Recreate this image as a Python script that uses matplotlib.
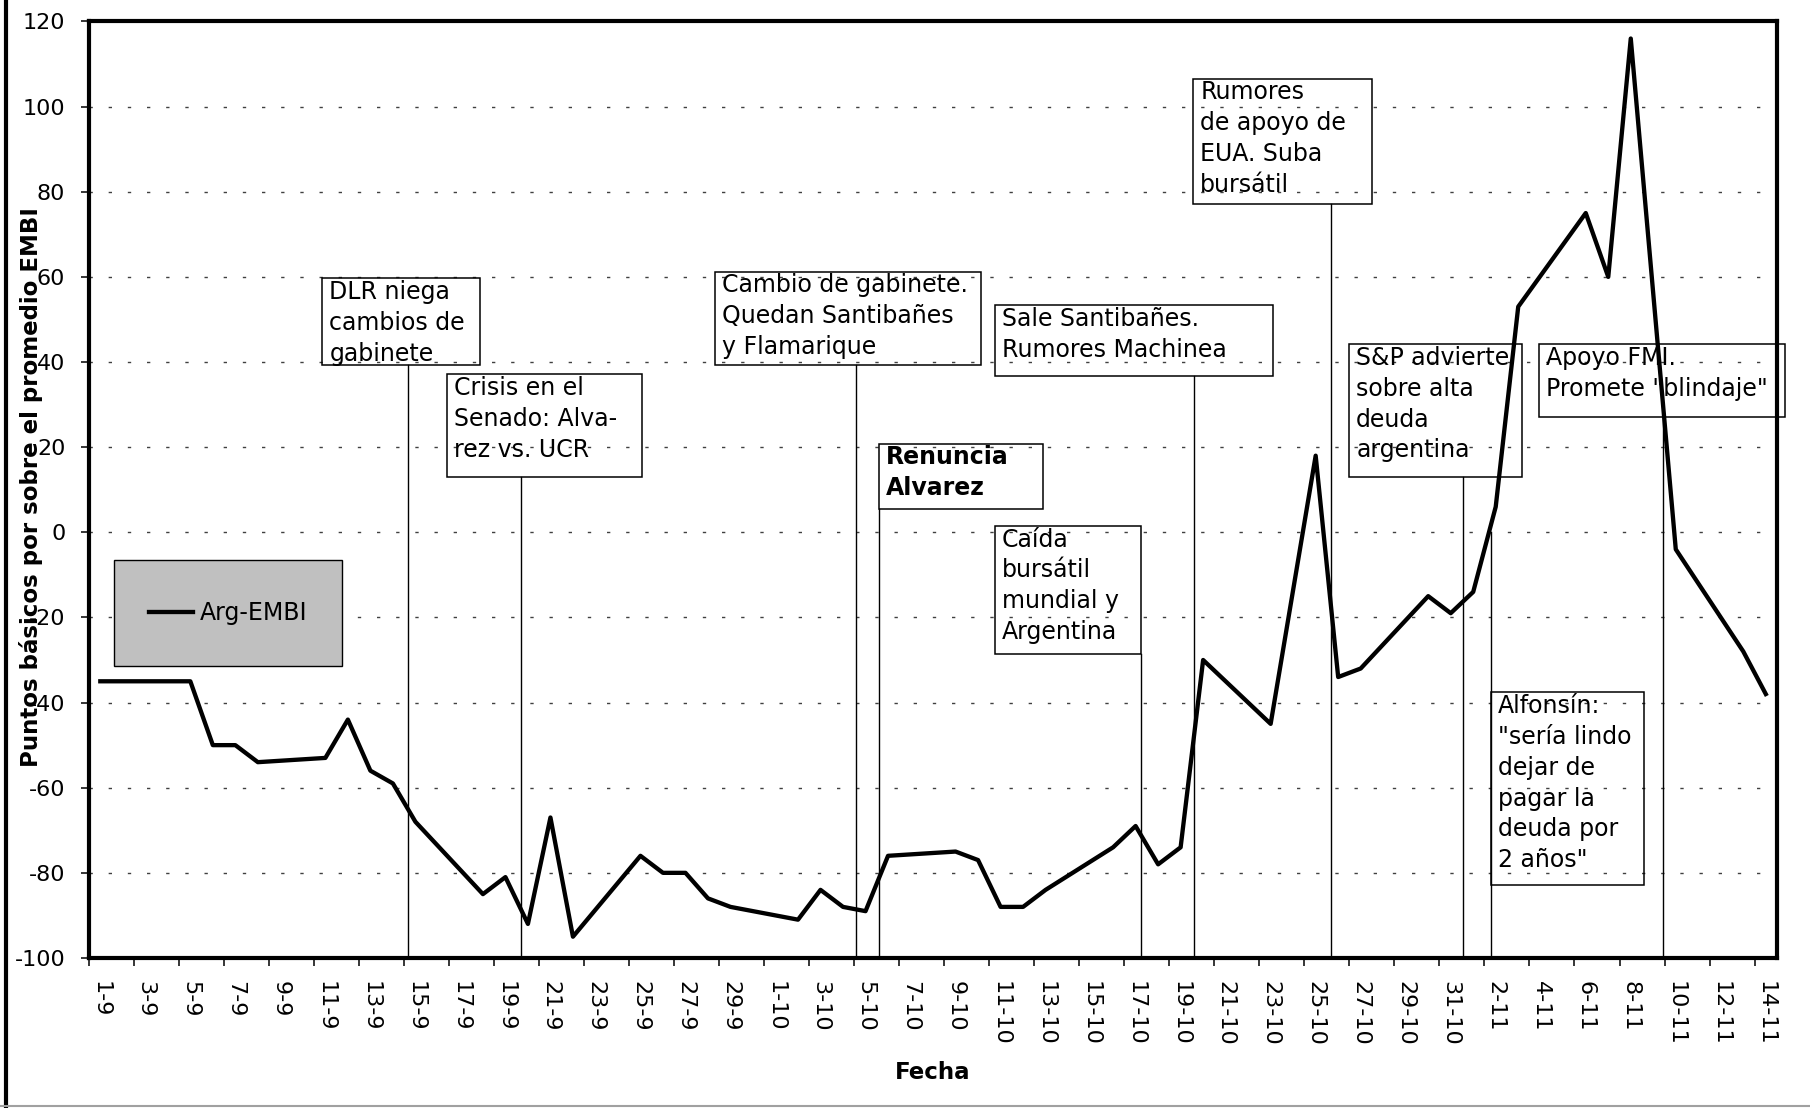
import numpy as np
import pandas as pd
import matplotlib
matplotlib.use("Agg")
import matplotlib.pyplot as plt
from matplotlib.patches import Rectangle
from matplotlib.lines import Line2D

plt.rcParams['font.family'] = ['DejaVu Sans']
plt.rcParams['axes.unicode_minus'] = False

# diferencial Argentina vs promedio EMBI (pb), dias habiles sep-nov 2000
fechas = ["2000-09-01", "2000-09-05", "2000-09-06", "2000-09-07", "2000-09-08",
          "2000-09-11", "2000-09-12", "2000-09-13", "2000-09-14", "2000-09-15",
          "2000-09-18", "2000-09-19", "2000-09-20", "2000-09-21", "2000-09-22",
          "2000-09-25", "2000-09-26", "2000-09-27", "2000-09-28", "2000-09-29",
          "2000-10-02", "2000-10-03", "2000-10-04", "2000-10-05", "2000-10-06",
          "2000-10-09", "2000-10-10", "2000-10-11", "2000-10-12", "2000-10-13",
          "2000-10-16", "2000-10-17", "2000-10-18", "2000-10-19", "2000-10-20",
          "2000-10-23", "2000-10-25", "2000-10-26", "2000-10-27",
          "2000-10-30", "2000-10-31", "2000-11-01", "2000-11-02", "2000-11-03",
          "2000-11-06", "2000-11-07", "2000-11-08", "2000-11-10",
          "2000-11-13", "2000-11-14"]
arg_embi = [-35, -35, -50, -50, -54,
            -53, -44, -56, -59, -68,
            -85, -81, -92, -67, -95,
            -76, -80, -80, -86, -88,
            -91, -84, -88, -89, -76,
            -75, -77, -88, -88, -84,
            -74, -69, -78, -74, -30,
            -45, 18, -34, -32,
            -15, -19, -14, 6, 53,
            75, 60, 116, -4,
            -28, -38]

y_ticks = list(range(-100, 121, 20))

# recuadros de eventos: texto, (x0, x1, y0, y1) en dias/pb, linea guia (x, y desde)
notas = [
    ("DLR niega\ncambios de\ngabinete", (9.87, 16.86, 39.4, 59.7), 13.68, 39.4, "normal"),
    ("Crisis en el\nSenado: Alva-\nrez vs. UCR", (15.40, 24.08, 13.0, 37.1), 18.71, 13.0, "normal"),
    ("Cambio de gabinete.\nQuedan Santibañes\ny Flamarique", (27.33, 39.11, 39.4, 61.2), 33.57, 39.4, "normal"),
    ("Renuncia\nAlvarez", (34.59, 41.88, 5.4, 20.8), 34.62, 5.4, "bold"),
    ("Sale Santibañes.\nRumores Machinea", (39.74, 52.10, 36.7, 53.4), 48.58, 36.7, "normal"),
    ("Caída\nbursátil\nmundial y\nArgentina", (39.74, 46.24, -28.5, 1.5), 46.24, -28.5, "normal"),
    ("Rumores\nde apoyo de\nEUA. Suba\nbursátil", (48.56, 56.49, 77.1, 106.6), 54.69, 77.1, "normal"),
    ("S&P advierte\nsobre alta\ndeuda\nargentina", (55.49, 63.17, 13.0, 44.2), 60.55, 13.0, "normal"),
    ("Apoyo FMI.\nPromete \"blindaje\"", (63.94, 74.86, 27.2, 44.2), 69.42, 27.2, "normal"),
    ("Alfonsín:\n\"sería lindo\ndejar de\npagar la\ndeuda por\n2 años\"", (61.78, 68.61, -82.9, -37.6), 61.78, 0.0, "normal"),
]

fechas = pd.to_datetime(fechas)
inicio = fechas[0]
x = (fechas - inicio).days.values

fig = plt.figure(figsize=(18.1, 11.08), dpi=100)
ax = fig.add_axes([0.0492, 0.1354, 0.9326, 0.8452])

linea, = ax.plot(x, arg_embi, color='black', lw=3.1, zorder=6, label='Arg-EMBI')

ax.set_xlim(-0.5, 74.5)
ax.set_ylim(-100, 120)

# etiquetas cada dos dias, marcas entre categorias
etiquetas = pd.date_range(fechas[0], fechas[-1], freq='2D')
ax.set_xticks((etiquetas - inicio).days.values)
ax.set_xticklabels([f"{d.day}-{d.month}" for d in etiquetas], rotation=270)
ax.set_xticks(np.arange(-0.5, 74.5, 2), minor=True)
ax.tick_params(axis='x', which='major', length=0, pad=16.5, labelsize=16)
ax.tick_params(axis='x', which='minor', length=5.8, width=1.1, direction='out')

ax.set_yticks(y_ticks)
ax.set_yticklabels([str(v) for v in y_ticks])
ax.tick_params(axis='y', length=5.8, width=1.1, pad=11.3, labelsize=16)

ax.yaxis.grid(True, linestyle=(0, (2.4, 11.4)), color='#404040', lw=1.0)
ax.set_axisbelow(True)

for s in ax.spines.values():
    s.set_linewidth(3)
    s.set_color('black')

for texto, (x0, x1, y0, y1), xl, yl, peso in notas:
    ax.add_patch(Rectangle((x0, y0), x1 - x0, y1 - y0, fill=False, ec='black',
                           lw=1.1, clip_on=False, zorder=4))
    ax.plot([xl, xl], [yl, -100], color='black', lw=1.0, zorder=3)
    ax.annotate(texto, xy=(x0, y1), xytext=(5, -1.2), textcoords='offset points',
                ha='left', va='top', fontsize=17, fontweight=peso,
                linespacing=1.36, zorder=5, annotation_clip=False)

# leyenda sobre fondo gris
ax.add_patch(Rectangle((0.61, -31.5), 10.15, 25.1, facecolor='#c0c0c0',
                       edgecolor='black', lw=1.0, zorder=4))
ax.legend(handles=[linea], loc='center', bbox_to_anchor=(5.69, -18.95),
          bbox_transform=ax.transData, frameon=False, fontsize=17,
          handlelength=1.86, handletextpad=0.3)

fig.text(0.0169, 0.5605, 'Puntos básicos por sobre el promedio EMBI', rotation=90,
         ha='center', va='center', fontsize=16.5, fontweight='bold')
fig.text(0.515, 0.032, 'Fecha', ha='center', va='center', fontsize=16.5, fontweight='bold')

# marco del grafico
fig.add_artist(Line2D([0.0033, 0.0033], [0, 1], transform=fig.transFigure,
                      color='black', lw=3))
fig.add_artist(Line2D([0, 1], [0.0018, 0.0018], transform=fig.transFigure,
                      color='#a0a0a0', lw=1.5))

fig.savefig('out.png', dpi=100)
